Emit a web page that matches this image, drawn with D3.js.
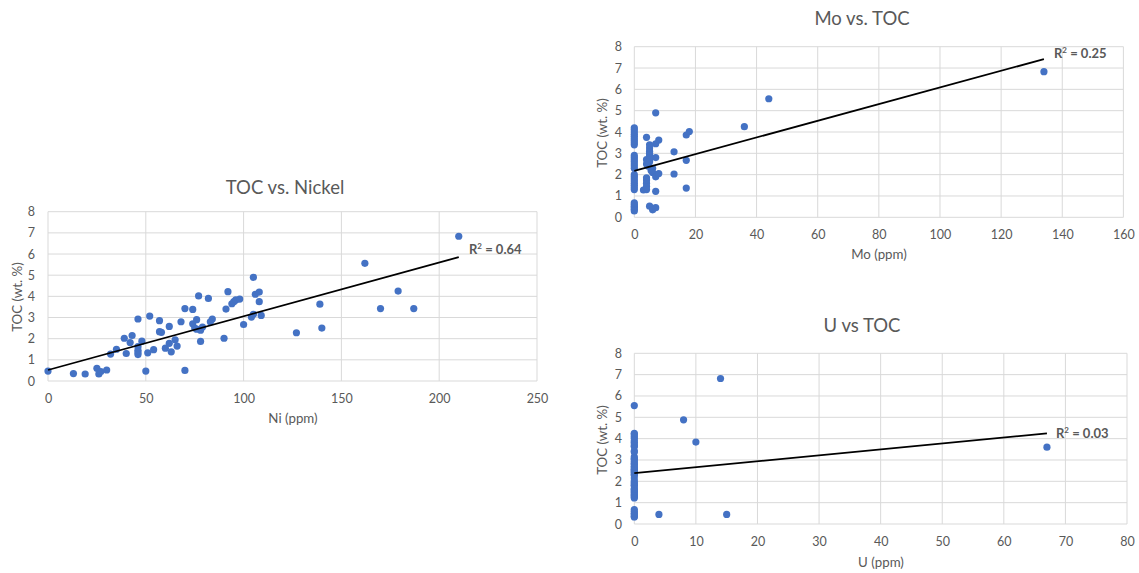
<!DOCTYPE html>
<html>
<head>
<meta charset="utf-8">
<script src="https://cdn.jsdelivr.net/npm/d3@7"></script>
<style>
  html, body { margin: 0; padding: 0; background: #fff; }
  svg { display: block; font-family: Lato, "Open Sans", sans-serif; }
</style>
</head>
<body>
<svg id="chart" width="1139" height="573"></svg>
<script>
// ---- Data: [ppm, TOC wt.%] per sample ----
const nickelPoints = [
  [0, 0.47], [13, 0.35], [19, 0.33], [25, 0.6], [26, 0.33], [27, 0.45], [30, 0.52],
  [32, 1.27], [35, 1.5], [39, 2.02], [40, 1.3], [42, 1.82], [43, 2.15], [46, 2.93],
  [46, 1.62], [46, 1.45], [46, 1.35], [46, 1.25], [48, 1.88], [50, 0.47], [51, 1.33],
  [52, 3.07], [54, 1.48], [57, 2.33], [57, 2.85], [58, 2.3], [60, 1.55], [62, 2.58],
  [62, 1.78], [63, 1.38], [65, 1.95], [66, 1.65], [68, 2.8], [70, 3.42], [70, 0.5],
  [74, 3.38], [74, 2.7], [75, 2.5], [76, 2.9], [76, 2.45], [77, 4.02], [78, 2.4],
  [78, 1.87], [79, 2.55], [82, 3.9], [83, 2.8], [84, 2.93], [90, 2.02], [91, 3.4],
  [92, 4.22], [94, 3.65], [95, 3.75], [96, 3.83], [98, 3.87], [100, 2.67], [104, 3.02],
  [105, 3.15], [105, 4.9], [106, 4.1], [108, 4.2], [108, 3.75], [109, 3.1], [127, 2.28],
  [139, 3.63], [140, 2.5], [162, 5.56], [170, 3.42], [179, 4.25], [187, 3.42], [210, 6.84]
];

const molybdenumPoints = [
  [0, 0.3], [0, 0.38], [0, 0.45], [0, 0.52], [0, 0.6], [0, 0.68],
  [0, 1.3], [0, 1.4], [0, 1.5], [0, 1.6], [0, 1.7], [0, 1.8], [0, 1.9], [0, 2.0],
  [0, 2.3], [0, 2.4], [0, 2.5], [0, 2.6], [0, 2.7], [0, 2.8], [0, 2.9],
  [0, 3.4], [0, 3.5], [0, 3.6], [0, 3.7], [0, 3.8], [0, 3.9], [0, 4.0], [0, 4.1], [0, 4.2],
  [3, 1.28], [4, 1.3], [4, 1.45], [4, 1.6], [4, 1.75], [4, 1.85], [4, 2.5], [4, 2.7],
  [4, 3.75], [4.5, 2.4], [5, 2.6], [5, 2.75], [5, 2.9], [5, 3.0], [5, 3.1], [5, 3.25],
  [5, 3.4], [5.5, 2.2], [6, 2.3], [6, 2.1], [7, 1.9], [7, 2.8], [7, 4.9], [7, 1.22],
  [7, 3.45], [8, 3.62], [8, 2.05], [5, 0.52], [6, 0.42], [6, 0.35], [7, 0.45],
  [13, 3.07], [13, 2.03], [17, 3.86], [18, 4.02], [17, 2.67], [17, 1.37],
  [36, 4.25], [44, 5.56], [134, 6.83]
];

const uraniumPoints = [
  [0, 0.33], [0, 0.35], [0, 0.45], [0, 0.5], [0, 0.6], [0, 0.68], [0, 5.55],
  [0, 1.22], [0, 1.27], [0, 1.33], [0, 1.38], [0, 1.45], [0, 1.5], [0, 1.55], [0, 1.62],
  [0, 1.65], [0, 1.78], [0, 1.82], [0, 1.87], [0, 1.95], [0, 2.02], [0, 2.15], [0, 2.28],
  [0, 2.33], [0, 2.4], [0, 2.45], [0, 2.5], [0, 2.55], [0, 2.58], [0, 2.67], [0, 2.7],
  [0, 2.8], [0, 2.85], [0, 2.93], [0, 3.02], [0, 3.07], [0, 3.15], [0, 3.38], [0, 3.42],
  [0, 3.63], [0, 3.65], [0, 3.75], [0, 3.83], [0, 3.9], [0, 4.02], [0, 4.1], [0, 4.2],
  [0, 4.25],
  [4, 0.45], [8, 4.88], [10, 3.84], [14, 6.82], [15, 0.45], [67, 3.6]
];

// Linear trendlines: [intercept, slope, last x]
const nickelTrend = [0.52, 0.0254, 210];
const molybdenumTrend = [2.18, 0.0391, 134];
const uraniumTrend = [2.38, 0.0279, 67];

const yTicks = [0, 1, 2, 3, 4, 5, 6, 7, 8];
const nickelXTicks = [0, 50, 100, 150, 200, 250];
const molybdenumXTicks = [0, 20, 40, 60, 80, 100, 120, 140, 160];
const uraniumXTicks = [0, 10, 20, 30, 40, 50, 60, 70, 80];

const titles = ["TOC vs. Nickel", "Mo vs. TOC", "U vs TOC"];
const xTitles = ["Ni (ppm)", "Mo (ppm)", "U (ppm)"];
const yTitle = "TOC (wt. %)";
const r2Labels = ["0.64", "0.25", "0.03"];

// ---- Drawing ----
const svg = d3.select("#chart");
const TEXT = "#595959", GRID = "#D9D9D9", DOT = "#4472C4";

function panel(opt) {
  const x = d3.scaleLinear().domain(opt.xDomain).range([opt.left, opt.right]);
  const y = d3.scaleLinear().domain([0, 8]).range([opt.bottom, opt.top]);
  const g = svg.append("g");

  // horizontal gridlines
  g.append("g").selectAll("line").data(yTicks).join("line")
    .attr("x1", opt.left).attr("x2", opt.right)
    .attr("y1", d => y(d)).attr("y2", d => y(d))
    .attr("stroke", GRID).attr("stroke-width", 1);
  // vertical gridlines
  g.append("g").selectAll("line").data(opt.xTicks).join("line")
    .attr("x1", d => x(d)).attr("x2", d => x(d))
    .attr("y1", opt.top).attr("y2", opt.bottom)
    .attr("stroke", GRID).attr("stroke-width", 1);

  // y tick labels
  const yAxis = d3.axisLeft(y).tickValues(yTicks).tickSize(0).tickPadding(0);
  const ya = g.append("g").attr("transform", `translate(${opt.yLabelX},0)`).call(yAxis);
  ya.select(".domain").remove();
  ya.selectAll("text").attr("fill", TEXT).style("font-size", "12.5px")
    .style("font-family", "Lato, sans-serif");

  // x tick labels
  const xAxis = d3.axisBottom(x).tickValues(opt.xTicks).tickSize(0).tickPadding(0);
  const xa = g.append("g").attr("transform", `translate(0,${opt.xLabelY})`).call(xAxis);
  xa.select(".domain").remove();
  xa.selectAll("text").attr("fill", TEXT).style("font-size", "12.5px")
    .style("font-family", "Lato, sans-serif");

  // points
  g.append("g").selectAll("circle").data(opt.points).join("circle")
    .attr("cx", d => x(d[0])).attr("cy", d => y(d[1])).attr("r", 3.6)
    .attr("fill", DOT);

  // trendline
  const [b, m, xEnd] = opt.trend;
  g.append("line")
    .attr("x1", x(0)).attr("y1", y(b))
    .attr("x2", x(xEnd)).attr("y2", y(b + m * xEnd))
    .attr("stroke", "#000").attr("stroke-width", 1.8);

  // R² label
  const r2 = g.append("text").attr("x", opt.r2[0]).attr("y", opt.r2[1])
    .attr("fill", TEXT).style("font-size", "13px").style("font-weight", "bold");
  r2.append("tspan").text("R");
  r2.append("tspan").attr("dy", -5).style("font-size", "8px").text("2");
  r2.append("tspan").attr("dy", 5).text(" = " + opt.r2Text);

  // chart title
  g.append("text").attr("x", opt.title[0]).attr("y", opt.title[1])
    .attr("text-anchor", "middle").attr("fill", TEXT)
    .style("font-size", "18.5px").text(opt.titleText);

  // axis titles
  g.append("text").attr("x", opt.xTitle[0]).attr("y", opt.xTitle[1])
    .attr("text-anchor", "middle").attr("fill", TEXT)
    .style("font-size", "13.3px").text(opt.xTitleText);
  g.append("text")
    .attr("transform", `translate(${opt.yTitle[0]},${opt.yTitle[1]}) rotate(-90)`)
    .attr("text-anchor", "middle").attr("fill", TEXT)
    .style("font-size", "13.3px").text(yTitle);
}

panel({
  xDomain: [0, 250], left: 48, right: 537, top: 211.7, bottom: 381,
  xTicks: nickelXTicks, points: nickelPoints, trend: nickelTrend,
  yLabelX: 35, xLabelY: 394,
  r2: [469, 254], r2Text: r2Labels[0],
  title: [285, 194], titleText: titles[0],
  xTitle: [293, 423], xTitleText: xTitles[0],
  yTitle: [22, 297]
});

panel({
  xDomain: [0, 160], left: 634.3, right: 1123.4, top: 46.7, bottom: 217.3,
  xTicks: molybdenumXTicks, points: molybdenumPoints, trend: molybdenumTrend,
  yLabelX: 622, xLabelY: 230,
  r2: [1054, 58], r2Text: r2Labels[1],
  title: [862, 25], titleText: titles[1],
  xTitle: [879, 259], xTitleText: xTitles[1],
  yTitle: [607, 133]
});

panel({
  xDomain: [0, 80], left: 634.3, right: 1127, top: 353.3, bottom: 524,
  xTicks: uraniumXTicks, points: uraniumPoints, trend: uraniumTrend,
  yLabelX: 622, xLabelY: 537,
  r2: [1056, 438], r2Text: r2Labels[2],
  title: [862, 332], titleText: titles[2],
  xTitle: [881, 567], xTitleText: xTitles[2],
  yTitle: [607, 440]
});
</script>
</body>
</html>
